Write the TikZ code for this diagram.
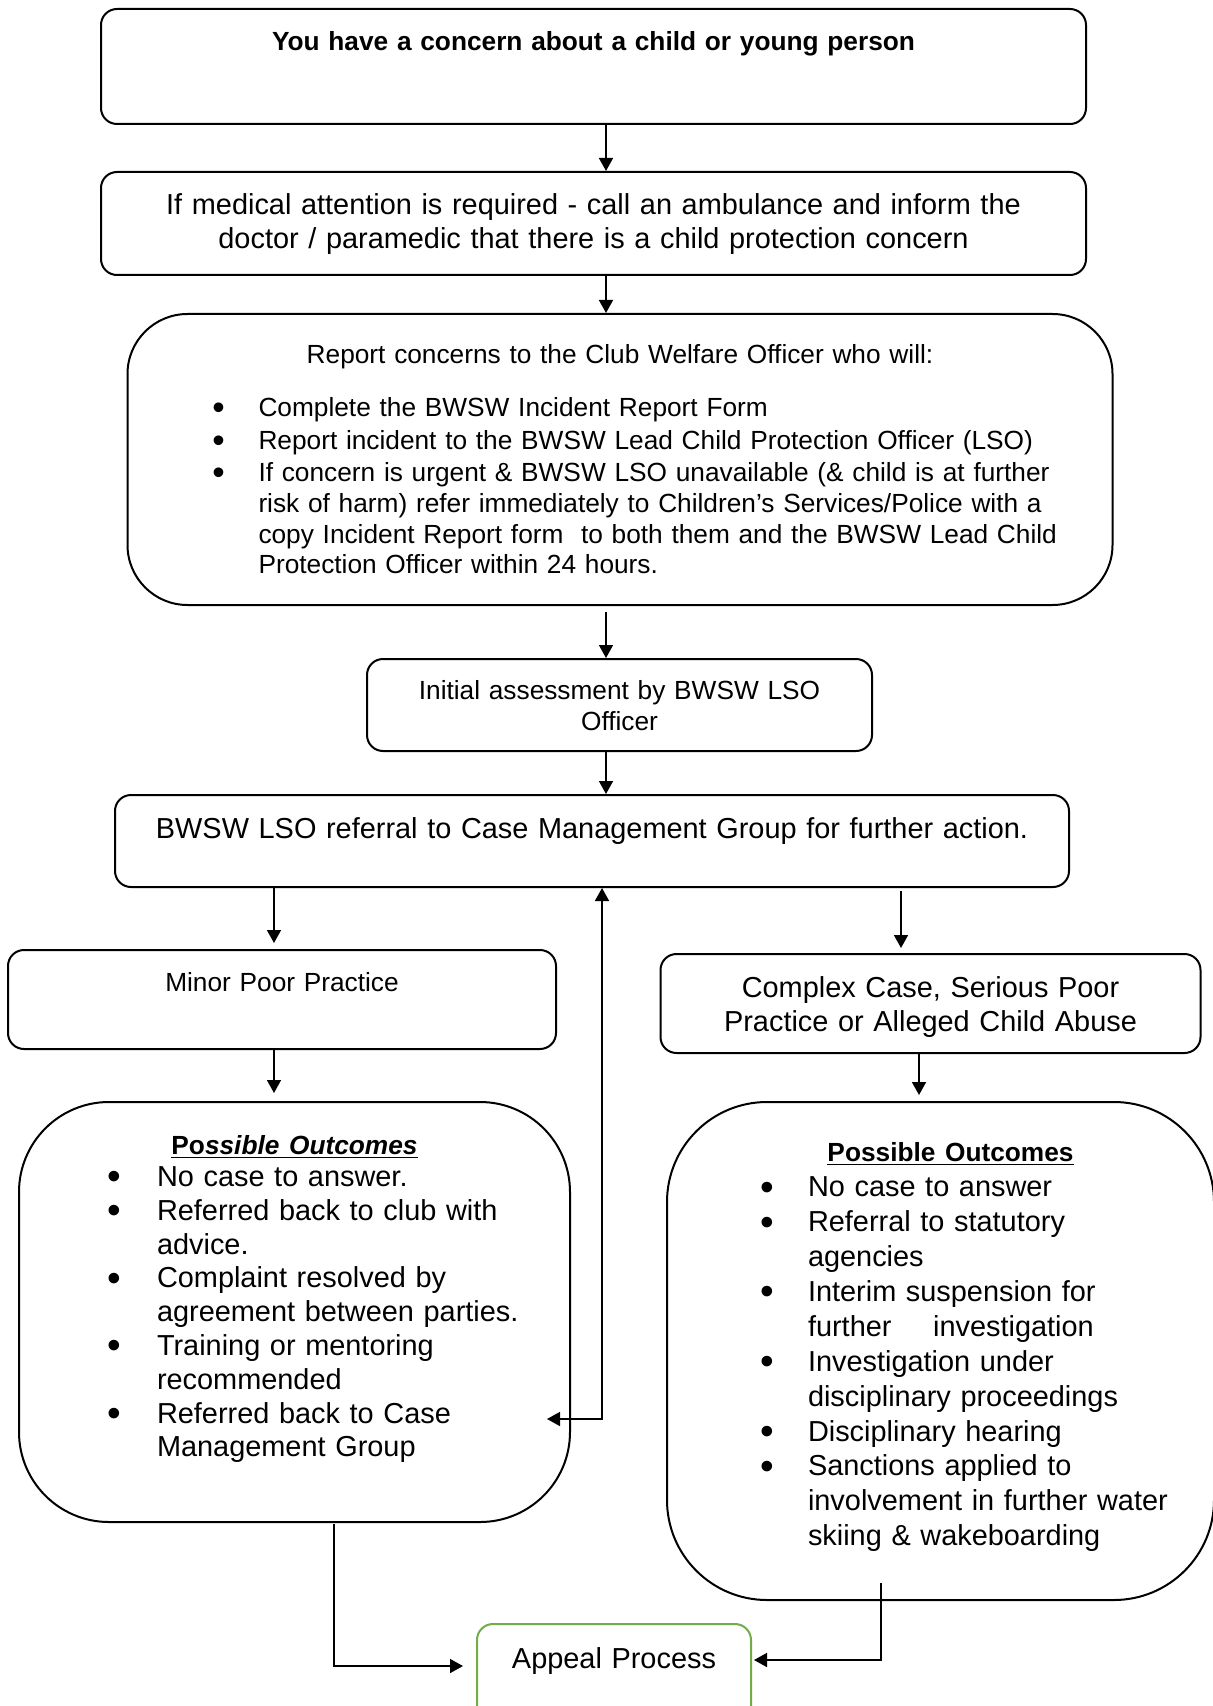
\documentclass[tikz,border=0pt]{standalone}
\usepackage{fontspec}
\setmainfont{Liberation Sans}
\usepackage{graphicx}
\usepackage{tikz}
\usetikzlibrary{arrows.meta}
\usetikzlibrary{calc}

\newcommand{\boxfont}{\fontsize{13.13}{15.3}\selectfont}
\newcommand{\bigfont}{\fontsize{14.45}{16.9}\selectfont}
\newcommand{\widefont}{\fontsize{14.45}{17.45}\selectfont}
\newcommand{\bigbullet}{\smash{\raisebox{-0.12em}{\scalebox{1.35}{\textbullet}}}}
\newenvironment{bullets}[2]{%
  \begin{list}{\bigbullet}{\setlength{\leftmargin}{#1}\setlength{\labelsep}{#2}%
    \setlength{\labelwidth}{10pt}\setlength{\topsep}{0pt}\setlength{\partopsep}{0pt}%
    \setlength{\parsep}{0pt}\setlength{\itemsep}{0pt}}}
  {\end{list}}
\definecolor{appealgreen}{RGB}{112,173,71}

\begin{document}
\begin{tikzpicture}[x=0.5pt,y=-0.5pt,>={Triangle[length=6.5pt,width=7pt]},
        block/.style={draw,line width=1pt,rounded corners=8pt,anchor=north,inner xsep=5pt,inner ysep=0pt},
        link/.style={->,line width=0.8pt}]

        \useasboundingbox (0,0) rectangle (1213,1706);

        \node [block,align=center,text width=482.5pt,text height=20.8pt,text depth=36.7pt,font=\boxfont\bfseries]
              (concern)  at (593.5,8)  {You have a concern about a child or young person};
        \node [block,align=center,text width=482.5pt,text height=21.25pt,text depth=30.25pt,font=\bigfont]
              (medical)  at (593.5,171) {If medical attention is required - call an ambulance and inform the\\
                                         doctor / paramedic that there is a child protection concern};
        \node [block,rounded corners=30pt,align=left,text width=482.5pt,text height=24.8pt,text depth=120.7pt,font=\boxfont]
              (report)   at (620,313)  {{\centering Report concerns to the Club Welfare Officer who will:\par}
                 \vspace{11.2pt}
                 \begin{bullets}{60.5pt}{16.8pt}\setlength{\itemsep}{1pt}
                   \item Complete the BWSW Incident Report Form
                   \item Report incident to the BWSW Lead Child Protection Officer (LSO)
                   \item If concern is urgent \& BWSW LSO unavailable (\& child is at further\\
                         risk of harm) refer immediately to Children's Services/Police with a\\
                         copy Incident Report form \ to both them and the BWSW Lead Child\\
                         Protection Officer within 24 hours.
                 \end{bullets}};
        \node [block,align=center,text width=242.5pt,text height=20.3pt,text depth=25.7pt,font=\boxfont]
              (initial)  at (619.5,658)  {Initial assessment by BWSW LSO\\ Officer};
        \node [block,align=center,text width=467pt,text height=21.5pt,text depth=24.5pt,font=\bigfont]
              (referral) at (592,794) {BWSW LSO referral to Case Management Group for further action.};
        \node [block,align=center,text width=264pt,text height=20.5pt,text depth=29pt,font=\boxfont]
              (minor)    at (282,949)  {Minor Poor Practice};
        \node [block,align=center,text width=260pt,text height=21.75pt,text depth=27.75pt,font=\bigfont]
              (complex)  at (930.5,953)  {Complex Case, Serious Poor\\ Practice or Alleged Child Abuse};
        \node [block,rounded corners=45pt,align=left,text width=265.5pt,text height=26.3pt,text depth=183.7pt,font=\bigfont]
              (minorout) at (294.5,1101) {{\centering\boxfont\bfseries\underline{Po\textit{ssible Outcomes}}\par}
                 \vspace{-0.95pt}
                 \begin{bullets}{64pt}{18pt}
                   \item No case to answer.
                   \item Referred back to club with\\ advice.
                   \item Complaint resolved by\\ agreement between parties.
                   \item Training or mentoring\\ recommended
                   \item Referred back to Case\\ Management Group
                 \end{bullets}};
        \node [block,rounded corners=50pt,align=left,text width=263.5pt,text height=29.6pt,text depth=219.4pt,font=\widefont]
              (majorout) at (940.5,1101) {{\centering\boxfont\bfseries\hspace*{10pt}\underline{Possible Outcomes}\par}
                 \vspace{0.3pt}
                 \begin{bullets}{65.5pt}{17pt}
                   \item No case to answer
                   \item Referral to statutory\\ agencies
                   \item Interim suspension for\\ further\hspace{16pt} investigation
                   \item Investigation under\\ disciplinary proceedings
                   \item Disciplinary hearing
                   \item Sanctions applied to\\ involvement in further water\\ skiing \& wakeboarding
                 \end{bullets}};
        \node [block,draw=appealgreen,align=center,text width=127pt,text height=22.25pt,text depth=32.75pt,font=\bigfont]
              (appeal)   at (614,1623) {Appeal Process};

        \coordinate (spine)      at (606,0);
        \coordinate (leftdrop)   at (274,0);
        \coordinate (rightdrop)  at (901,0);
        \coordinate (rightdrop2) at (919,0);
        \coordinate (backline)   at (602,0);
        \coordinate (backtip)    at (547,1419);
        \coordinate (minorfoot)  at (334,1524);
        \coordinate (majorfoot)  at (881,1583);
        \coordinate (appealleft)  at ($(appeal.north west)+(-13,43)$);
        \coordinate (appealright) at ($(appeal.north east)+(2,37)$);

        \draw [link] (concern.south -| spine) -- (medical.north -| spine);
        \draw [link] (medical.south -| spine) -- (report.north -| spine);
        \draw [link] ([yshift=-3pt]report.south -| spine) -- (initial.north -| spine);
        \draw [link] (initial.south -| spine) -- (referral.north -| spine);
        \draw [link,shorten >=3pt] (referral.south -| leftdrop) -- (minor.north -| leftdrop);
        \draw [link] ([yshift=-1.5pt]referral.south -| rightdrop) -- ([yshift=2.5pt]complex.north -| rightdrop);
        \draw [link,shorten >=4pt] (minor.south -| leftdrop) -- (minorout.north -| leftdrop);
        \draw [link,shorten >=3pt] (complex.south -| rightdrop2) -- (majorout.north -| rightdrop2);
        \draw [link,<->] (referral.south -| backline) |- (backtip);
        \draw [link] (minorfoot) |- (appealleft);
        \draw [link] (majorfoot) |- (appealright);
      \end{tikzpicture}
\end{document}
